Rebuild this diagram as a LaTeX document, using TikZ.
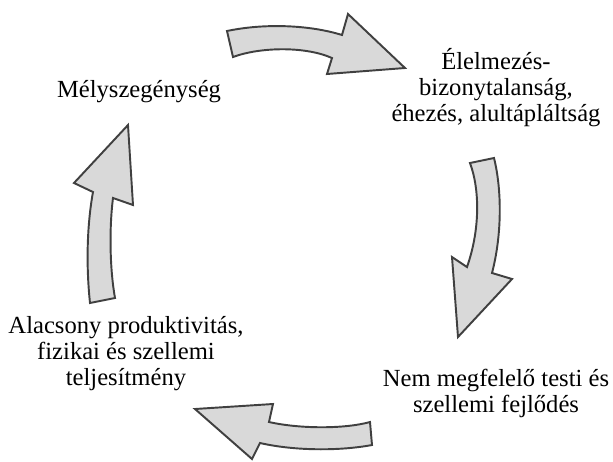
\documentclass[tikz,border=0pt]{standalone}
\usepackage{fontspec}
\setmainfont{Liberation Serif}
\definecolor{arrowfill}{HTML}{D9D9D9}
\definecolor{arrowdraw}{HTML}{404040}
\begin{document}
\begin{tikzpicture}[x=0.02cm,y=-0.02cm,
        label/.style={align=center,font=\fontsize{14}{14.8}\selectfont,inner sep=0pt},
        blockarrow/.style={draw=arrowdraw,fill=arrowfill,line width=1.1pt,line join=miter}]
        \useasboundingbox (0,0) rectangle (613,461);
        \node (melyszeg) [label] at (139,92) {Mélyszegénység};
        \node (elelmezes) [label] at (496,88) {Élelmezés-\\bizonytalanság,\\éhezés, alultápláltság};
        \node (fejlodes) [label] at (496,393) {Nem megfelelő testi és\\szellemi fejlődés};
        \node (produkt) [label] at (126,354) {Alacsony produktivitás,\\fizikai és szellemi\\teljesítmény};

        % top arrow
        \draw[blockarrow] (227,31) .. controls (265,23) and (310,25) .. (342,35) -- (348,14) -- (405,68)
            -- (327,74) -- (332,58) .. controls (305,46) and (260,47) .. (233,57) -- cycle;
        % right arrow
        \draw[blockarrow] (494,158) .. controls (502,190) and (502,235) .. (492,273) -- (512,279) -- (458,337)
            -- (452,257) -- (467,267) .. controls (480,230) and (480,190) .. (470,163) -- cycle;
        % bottom arrow
        \draw[blockarrow] (370,422) .. controls (345,429) and (300,429) .. (269,422) -- (273,404) -- (195,409)
            -- (252,459) -- (260,443) .. controls (295,451) and (340,451) .. (372,445) -- cycle;
        % left arrow
        \draw[blockarrow] (90,303) .. controls (86,265) and (87,225) .. (93,192) -- (74,183) -- (128,125)
            -- (133,205) -- (113,198) .. controls (109,230) and (110,270) .. (115,298) -- cycle;
    \end{tikzpicture}
\end{document}
